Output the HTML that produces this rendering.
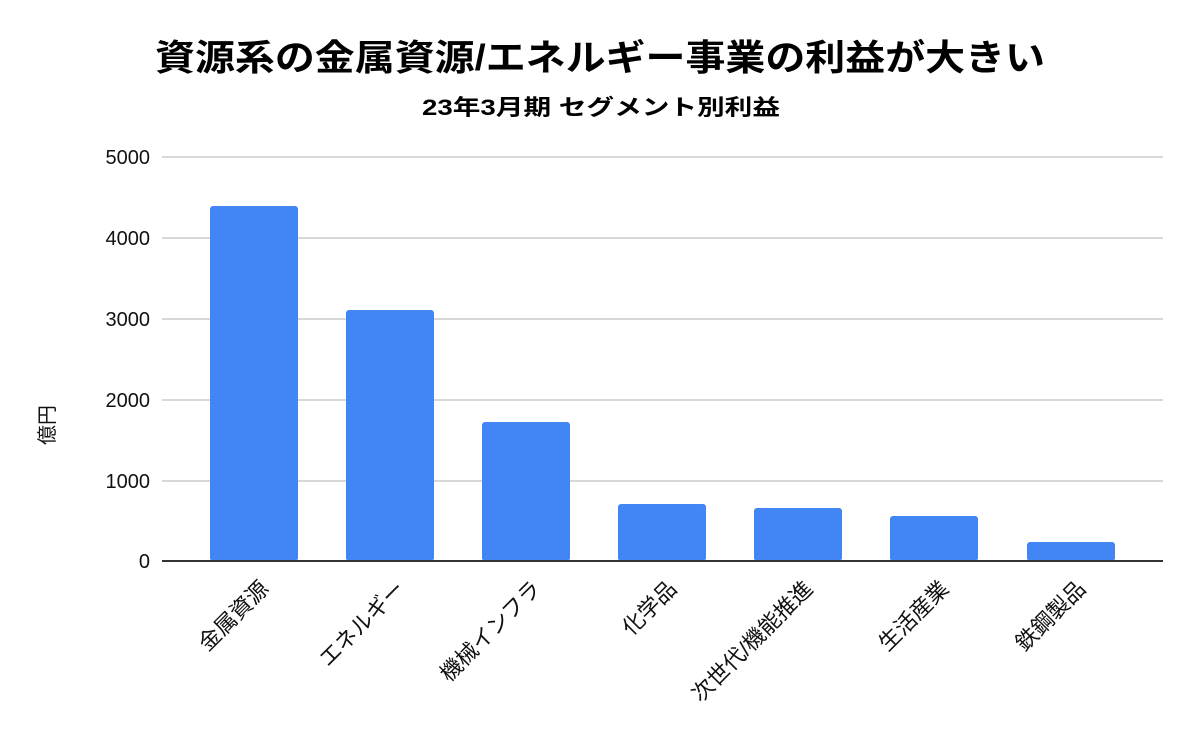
<!DOCTYPE html>
<html><head><meta charset="utf-8"><style>
body{margin:0;background:#fff;}
svg{display:block;font-family:"Liberation Sans","Noto Sans CJK JP",sans-serif;}
</style></head><body>
<svg width="1200" height="742" viewBox="0 0 1200 742">
<rect width="1200" height="742" fill="#fff"/>
<text x="600" y="70" text-anchor="middle" font-size="36" font-weight="bold" textLength="890" lengthAdjust="spacingAndGlyphs">資源系の金属資源/エネルギー事業の利益が大きい</text>
<text x="601" y="115" text-anchor="middle" font-size="22" font-weight="bold" textLength="358" lengthAdjust="spacingAndGlyphs">23年3月期 セグメント別利益</text>
<g stroke="#cccccc" stroke-width="1.5">
<line x1="162" x2="1163" y1="157" y2="157"/>
<line x1="162" x2="1163" y1="238" y2="238"/>
<line x1="162" x2="1163" y1="319" y2="319"/>
<line x1="162" x2="1163" y1="400" y2="400"/>
<line x1="162" x2="1163" y1="481" y2="481"/>
</g>
<g font-size="20" text-anchor="end" fill="#111">
<text x="150" y="164">5000</text>
<text x="150" y="245">4000</text>
<text x="150" y="326">3000</text>
<text x="150" y="407">2000</text>
<text x="150" y="488">1000</text>
<text x="150" y="568">0</text>
</g>
<text transform="translate(54,425) rotate(-90)" text-anchor="middle" font-size="20" fill="#111">億円</text>
<g fill="#4285f4">
<rect x="210" y="206" width="88" height="355" rx="3"/>
<rect x="346" y="310" width="88" height="251" rx="3"/>
<rect x="482" y="422" width="88" height="139" rx="3"/>
<rect x="618" y="504" width="88" height="57" rx="3"/>
<rect x="754" y="508" width="88" height="53" rx="3"/>
<rect x="890" y="516" width="88" height="45" rx="3"/>
<rect x="1027" y="542" width="88" height="19" rx="3"/>
</g>
<line x1="162" x2="1163" y1="561" y2="561" stroke="#333" stroke-width="2"/>
<g font-size="22" text-anchor="end" fill="#111">
<text transform="translate(270,590) rotate(-45)">金属資源</text>
<text transform="translate(406,590) rotate(-45)">エネルギー</text>
<text transform="translate(542,590) rotate(-45)">機械インフラ</text>
<text transform="translate(678,590) rotate(-45)">化学品</text>
<text transform="translate(814,590) rotate(-45)">次世代/機能推進</text>
<text transform="translate(950,590) rotate(-45)">生活産業</text>
<text transform="translate(1087,590) rotate(-45)">鉄鋼製品</text>
</g>
</svg>
</body></html>
